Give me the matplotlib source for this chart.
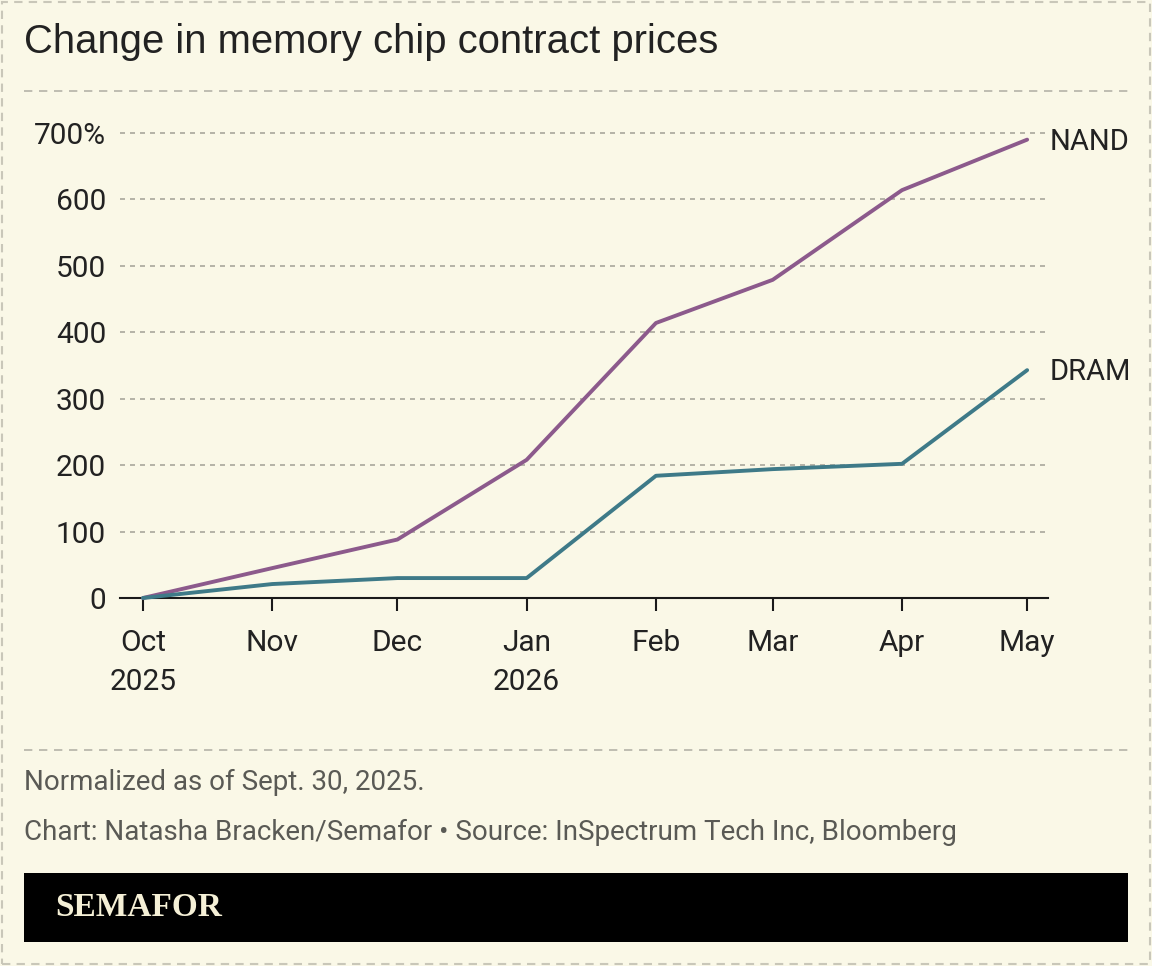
import matplotlib
matplotlib.use("Agg")
import matplotlib.pyplot as plt
import matplotlib.dates as mdates
from matplotlib.patches import Rectangle
import datetime as dt

# ---- data ----
months = ["2025-10-01", "2025-11-01", "2025-12-01", "2026-01-01",
          "2026-02-01", "2026-03-01", "2026-04-01", "2026-05-01"]
nand = [0, 45, 88, 208, 414, 479, 614, 690]
dram = [0, 21, 30, 30, 184, 194, 202, 343]
tick_labels = ["Oct\n2025", "Nov", "Dec", "Jan\n2026", "Feb", "Mar", "Apr", "May"]
y_ticks = [0, 100, 200, 300, 400, 500, 600, 700]
y_labels = ["0", "100", "200", "300", "400", "500", "600", "700%"]

title = "Change in memory chip contract prices"
note = "Normalized as of Sept. 30, 2025."
credit = "Chart: Natasha Bracken/Semafor \u2022 Source: InSpectrum Tech Inc, Bloomberg"

BG = "#FAF8E7"
NAND_C = "#8C5A8C"
DRAM_C = "#3E7A88"
TXT = "#222222"
GRAY = "#5a5a55"

W, H = 1152, 966
fig = plt.figure(figsize=(W / 100, H / 100), dpi=100, facecolor=BG)

def fx(px):
    return px / W

def fy(py):
    return 1 - py / H

dates = [dt.datetime.strptime(m, "%Y-%m-%d") for m in months]

ax = fig.add_axes([fx(120), fy(598), fx(1048) - fx(120), fy(133) - fy(598)])
ax.set_facecolor("none")
ax.set_ylim(0, 700)
ax.set_xlim(dates[0] - dt.timedelta(days=5.5), dates[-1] + dt.timedelta(days=5.0))

for s in ["top", "right", "left"]:
    ax.spines[s].set_visible(False)
ax.spines["bottom"].set_color("#1a1a1a")
ax.spines["bottom"].set_linewidth(1.5)

FS = 21.5
ax.set_yticks(y_ticks)
ax.set_yticklabels(y_labels, fontfamily="Roboto", fontsize=FS, color=TXT)
ax.tick_params(axis="y", length=0, pad=10)
ax.set_xticks(dates)
ax.set_xticklabels(tick_labels, fontfamily="Roboto", fontsize=FS, color=TXT, linespacing=1.5)
ax.tick_params(axis="x", length=9, width=1.5, color="#1a1a1a", pad=13, direction="out")

for yv in y_ticks[1:]:
    ax.axhline(yv, color="#a9a79c", lw=1.2, ls=(0, (3, 3)), zorder=0, clip_on=False)

ax.plot(dates, nand, color=NAND_C, lw=2.8, solid_capstyle="round", zorder=3, clip_on=False)
ax.plot(dates, dram, color=DRAM_C, lw=2.8, solid_capstyle="round", zorder=3, clip_on=False)

ax.annotate("NAND", xy=(dates[-1], nand[-1]), xytext=(16, -2), textcoords="offset points",
            va="center", ha="left", fontfamily="Roboto", fontsize=FS - 0.5, color=TXT, annotation_clip=False)
ax.annotate("DRAM", xy=(dates[-1], dram[-1]), xytext=(16, -1), textcoords="offset points",
            va="center", ha="left", fontfamily="Roboto", fontsize=FS - 0.5, color=TXT, annotation_clip=False)

# title
fig.text(fx(24), fy(42), title, fontfamily="Liberation Sans", fontsize=28.8, color=TXT,
         va="center", ha="left")

# separator lines
fig.add_artist(plt.Line2D([fx(24), fx(1128)], [fy(91), fy(91)], color="#b5b3a8", lw=1.2,
                          ls=(0, (5, 4))))
fig.add_artist(plt.Line2D([fx(24), fx(1128)], [fy(750), fy(750)], color="#b5b3a8", lw=1.2,
                          ls=(0, (5, 4))))

# footer
fig.text(fx(24), fy(782), note, fontfamily="Roboto", fontsize=20, color=GRAY, va="center", ha="left")
fig.text(fx(24), fy(832), credit, fontfamily="Roboto", fontsize=20, color=GRAY, va="center", ha="left")

fig.add_artist(Rectangle((fx(24), fy(942)), fx(1128) - fx(24), fy(873) - fy(942),
                         transform=fig.transFigure, facecolor="black", edgecolor="none"))
fig.text(fx(55), fy(908), "SEMAFOR", fontfamily="Liberation Serif", fontweight="bold",
         fontsize=24, color="#F5F0D6", va="center", ha="left")

# outer dashed border
fig.add_artist(Rectangle((fx(2), fy(964)), fx(1150) - fx(2), fy(2) - fy(964),
                         transform=fig.transFigure, facecolor="none", edgecolor="#c9c7b9",
                         lw=1.5, ls=(0, (4, 3))))

fig.savefig("out.png", dpi=100, facecolor=BG)
